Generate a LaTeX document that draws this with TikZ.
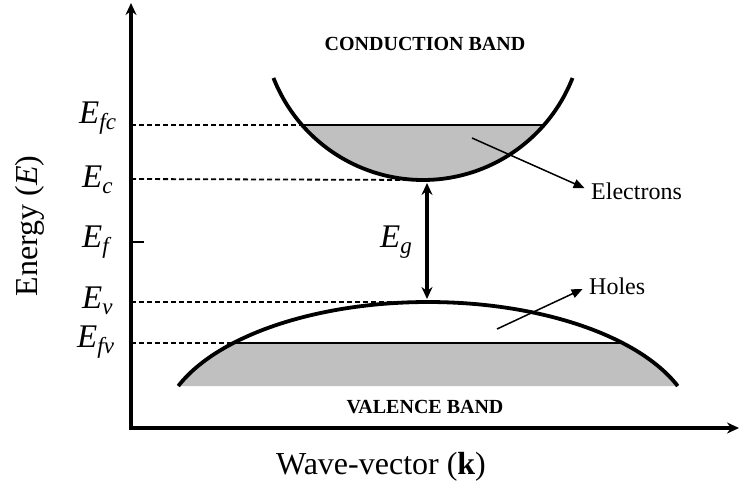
\documentclass[tikz,border=0pt]{standalone}
\usepackage{fontspec}
\setmainfont{Liberation Serif}
\usetikzlibrary{arrows.meta}
\definecolor{bandgray}{RGB}{192,192,192}
\newcommand\lev[1]{\textit{E}\raisebox{-6pt}{\fontsize{23}{23}\selectfont\textit{#1}}}
\begin{document}
\begin{tikzpicture}[x=1pt,y=-1pt,
  axisline/.style={line width=4pt,{Stealth[length=12pt,width=11pt]}-{Stealth[length=12pt,width=11pt]}},
  bandline/.style={line width=3.8pt},
  dashline/.style={line width=1.8pt,dash pattern=on 5pt off 3pt},
  thinline/.style={line width=1.1pt},
  gapline/.style={line width=3.4pt,{Stealth[length=12pt,width=11pt,inset=4pt]}-{Stealth[length=12pt,width=11pt,inset=4pt]}},
  pointer/.style={line width=1.5pt,shorten >=7pt,-{Triangle[length=11pt,width=9pt]}},
  levlabel/.style={font=\fontsize{33}{33}\selectfont,anchor=base west,inner sep=0pt},
  bandlabel/.style={font=\fontsize{20}{20}\selectfont\bfseries,inner sep=0pt},
  carrier/.style={font=\fontsize{24}{24}\selectfont,anchor=west,inner sep=0pt},
  axislabel/.style={font=\fontsize{32}{32}\selectfont,inner sep=0pt}]
\useasboundingbox (0,0) rectangle (739,499);
% axes
\coordinate (ytop) at (131,3);
\coordinate (O) at (131,428);
\coordinate (xend) at (739,428);
\draw[axisline] (ytop) -- (O) -- (xend);
% conduction band fill
\fill[bandgray] plot[domain=-48.9:48.9,samples=60,smooth] ({423+160.6*sin(\x)},{19.4+160.6*cos(\x)}) -- cycle;
\coordinate (fcL) at (302,125);
\coordinate (fcR) at (544,125);
\draw[thinline] (fcL) -- (fcR);
% valence band fill
\fill[bandgray] plot[domain=20.7:43.2,samples=30,smooth] ({428+267*cos(\x)},{432-130*sin(\x)})
  -- plot[domain=136.8:159.3,samples=30,smooth] ({428+267*cos(\x)},{432-130*sin(\x)}) -- cycle;
\coordinate (fvL) at (233,343);
\coordinate (fvR) at (623,343);
\draw[thinline] (fvL) -- (fvR);
% bands
\draw[bandline] plot[domain=-68.6:68.6,samples=90,smooth] ({423+160.6*sin(\x)},{19.4+160.6*cos(\x)});
\draw[bandline] plot[domain=20.7:159.3,samples=120,smooth] ({428+267*cos(\x)},{432-130*sin(\x)});
% level coordinates
\coordinate (aFc) at (131,125);
\coordinate (aC) at (131,179);
\coordinate (aF) at (131,242);
\coordinate (aV) at (131,302);
\coordinate (aFv) at (131,343);
\coordinate (cMin) at (426,180);
\coordinate (vMax) at (426,302);
\coordinate (fTick) at (144,242);
\draw[dashline] (aFc) -- (fcL);
\draw[dashline] (aC) -- (cMin);
\draw[dashline] (aV) -- (vMax);
\draw[dashline] (aFv) -- (fvL);
\draw[thinline] (aF) -- (fTick);
% gap arrow
\coordinate (gTop) at (427,183);
\coordinate (gBot) at (427,299);
\draw[gapline] (gTop) -- (gBot);
\node[levlabel] (Eg) at (380,247) {\lev{g}};
% level labels
\node[levlabel] (Lfc) at (79,123) {\lev{fc}};
\node[levlabel] (Lc) at (82,187) {\lev{c}};
\node[levlabel] (Lf) at (82,247) {\lev{f}};
\node[levlabel] (Lv) at (82,308) {\lev{v}};
\node[levlabel] (Lfv) at (77,347) {\lev{fv}};
% band labels
\node[bandlabel] (CB) at (425,44) {CONDUCTION BAND};
\node[bandlabel] (VB) at (425,407) {VALENCE BAND};
% carriers
\node[carrier] (El) at (591,191) {Electrons};
\node[carrier] (Ho) at (589,286) {Holes};
\coordinate (eStart) at (472,138);
\coordinate (hStart) at (497,329);
\draw[pointer] (eStart) -- (El.west);
\draw[pointer] (hStart) -- (Ho.west);
% axis labels
\node[axislabel,rotate=90] (Ey) at (30,226) {Energy (\textit{E})};
\node[axislabel] (Kx) at (381,467) {Wave-vector (\textbf{k})};
\end{tikzpicture}
\end{document}
